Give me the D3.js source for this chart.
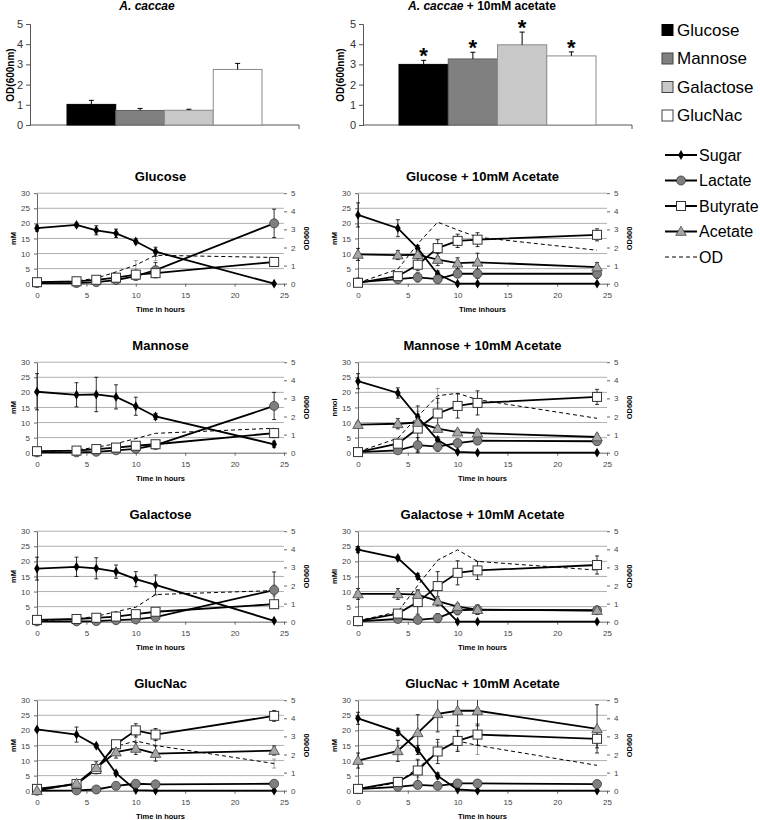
<!DOCTYPE html>
<html>
<head>
<meta charset="utf-8">
<script src="https://cdn.jsdelivr.net/npm/d3@7"></script>
<style>
body { margin: 0; background: #fff; }
svg { font-family: "Liberation Sans", Arial, sans-serif; }
</style>
</head>
<body>
<div id="chart"></div>
<script>
// top bar charts
const sugars = ["Glucose", "Mannose", "Galactose", "GlucNac"];
const odPlain = [1.02, 0.72, 0.73, 2.75];
const odPlainErr = [0.2, 0.1, 0.05, 0.3];
const odAcetate = [3.0, 3.27, 3.97, 3.42];
const odAcetateErr = [0.2, 0.33, 0.63, 0.2];
const barTicks = [0, 1, 2, 3, 4, 5];

// time course panels
const hours = [0, 4, 6, 8, 10, 12, 24];
const hourTicks = [0, 5, 10, 15, 20, 25];
const mmTicks = [0, 5, 10, 15, 20, 25, 30];
const odTicks = [0, 1, 2, 3, 4, 5];
const panelTitles = ["Glucose", "Glucose + 10mM Acetate", "Mannose", "Mannose + 10mM Acetate",
  "Galactose", "Galactose + 10mM Acetate", "GlucNac", "GlucNac + 10mM Acetate"];
const unitLabels = ["mM", "mM", "mM", "nmol", "mM", "mMl", "mM", "mM"];
const timeLabels = ["Time in hours", "Time inhours", "Time in hours", "Time in hours",
  "Time in hours", "Time in hours", "Time in hours", "Time in hours"];
const lineNames = ["Sugar", "Lactate", "Butyrate", "Acetate", "OD"];

const sugar = [
  [18.4, 19.5, 17.7, 16.7, 14.0, 10.6, 0],
  [22.8, 18.4, 11.7, 3.2, 0, 0, 0],
  [20.2, 19.2, 19.3, 18.5, 15.4, 12.0, 2.8],
  [23.7, 19.8, 11.8, 4.2, 0.3, 0, 0],
  [17.6, 18.2, 17.7, 16.6, 14.1, 12.2, 0.3],
  [23.9, 21.1, 15.0, 6.7, 0, 0, 0],
  [20.3, 18.6, 14.9, 5.8, 0.2, 0, 0],
  [24.0, 19.5, 13.5, 4.9, 0.4, 0, 0]
];
const sugarErr = [
  [1.0, 0.6, 1.5, 1.4, 0.8, 1.5, 0],
  [4.0, 2.8, 1.0, 1.0, 0, 0, 0],
  [6.0, 4.0, 5.7, 4.0, 3.0, 1.0, 1.0],
  [2.5, 1.7, 1.0, 1.0, 0, 0, 0],
  [3.8, 3.2, 3.5, 2.2, 2.5, 3.3, 0],
  [1.0, 0.6, 1.0, 1.0, 0, 0, 0],
  [0.5, 2.5, 0.6, 0.6, 0, 0, 0],
  [2.0, 1.2, 1.5, 1.0, 0, 0, 0]
];
const lactate = [
  [0.2, 0.2, 0.5, 1.2, 2.5, 4.5, 20.0],
  [0.5, 1.5, 2.1, 1.5, 3.3, 3.3, 3.3],
  [0.1, 0.1, 0.3, 0.8, 1.3, 2.5, 15.5],
  [0.2, 0.8, 2.5, 2.0, 3.2, 4.0, 3.8],
  [0.1, 0.1, 0.2, 0.5, 0.8, 1.5, 10.5],
  [0.1, 0.9, 0.6, 1.2, 3.8, 4.0, 3.8],
  [0.0, 0.1, 0.4, 1.6, 2.3, 2.1, 2.3],
  [0.5, 1.3, 1.9, 1.6, 2.4, 2.4, 2.2]
];
const lactateErr = [
  [0, 0, 0, 0, 0.8, 2.5, 4.7],
  [0.5, 1, 1.5, 1, 1, 1.5, 1.5],
  [0, 0, 0, 0, 0, 0, 4.5],
  [0.3, 0.8, 2.5, 1.5, 1.2, 1.2, 1.2],
  [0, 0, 0, 0, 0, 0, 6.0],
  [0.3, 0.5, 1.0, 1.5, 1.5, 1.5, 1.2],
  [0, 0, 0, 0.3, 0.3, 0.3, 0.3],
  [0.5, 0.8, 1, 1, 1, 1, 0.5]
];
const butyrate = [
  [0.5, 0.8, 1.3, 2.0, 3.0, 3.5, 7.2],
  [0.3, 2.5, 6.3, 11.8, 14.2, 14.6, 16.2],
  [0.5, 0.7, 1.2, 1.7, 2.3, 2.8, 6.5],
  [0.2, 3.0, 8.0, 13.0, 15.5, 16.5, 18.5],
  [0.6, 0.9, 1.3, 1.7, 2.5, 3.3, 5.8],
  [0.2, 2.7, 6.5, 11.8, 16.2, 17.0, 18.8],
  [0.6, 2.2, 7.2, 15.4, 20.0, 18.6, 24.8],
  [0.6, 2.9, 6.7, 13.0, 16.5, 18.6, 17.2]
];
const butyrateErr = [
  [0, 0, 0.5, 0.8, 0.8, 1.5, 1.3],
  [0.3, 1, 2, 2.8, 2.2, 2.3, 2.0],
  [0, 0, 0, 0, 0.5, 0.5, 1.5],
  [0.2, 1.5, 7.5, 5, 4, 4, 2.5],
  [0, 0, 0, 0, 0, 0.5, 0.8],
  [0.2, 1.2, 4, 4.8, 4, 3, 3],
  [0, 0.8, 1, 1, 2.2, 2, 1.8],
  [0.6, 1.5, 3.5, 4, 3.5, 3.5, 3]
];
const acetate = [
  null, [9.7, 9.5, 9.6, 8.0, 6.8, 7.1, 5.5],
  null, [9.3, 9.6, 10.0, 8.0, 6.8, 6.5, 5.2],
  null, [9.2, 9.2, 9.0, 6.8, 5.0, 4.0, 3.7],
  [0.0, 2.4, 7.6, 12.8, 14.0, 12.3, 13.3],
  [10.0, 13.2, 19.2, 25.5, 26.5, 26.5, 20.5]
];
const acetateErr = [
  null, [2, 1.5, 1, 2, 1.8, 3, 1.5],
  null, [1, 1.7, 1, 1, 0.8, 1, 1],
  null, [1.8, 1.8, 1.5, 1.5, 1, 1.5, 1],
  [0, 0.8, 2, 2, 2, 2.5, 1.5],
  [2.5, 3.5, 6, 6, 5, 5, 8]
];
// OD600, right axis
const od = [
  [0.05, 0.15, 0.3, 0.65, 1.03, 1.57, 1.45],
  [0.05, 0.8, 2.2, 3.4, 2.97, 2.57, 1.85],
  [0.05, 0.15, 0.3, 0.5, 0.78, 1.07, 1.35],
  [0.05, 0.8, 2.0, 3.15, 3.28, 2.93, 1.9],
  [0.05, 0.15, 0.3, 0.55, 0.8, 1.5, 1.72],
  [0.05, 0.55, 2.0, 3.4, 3.97, 3.33, 2.85],
  [0.05, 0.35, 1.2, 2.45, 2.75, 2.5, 1.5],
  [0.05, 0.45, 1.25, 2.17, 2.75, 2.5, 1.4]
];
const odErr = [
  [0, 0, 0.1, 0.15, 0.25, 0.3, 0.15],
  [0, 0, 0, 0, 0, 0, 0],
  [0, 0, 0, 0, 0, 0, 0.15],
  [0, 0, 0.3, 0.4, 0, 0, 0],
  [0, 0, 0, 0, 0, 0, 0.3],
  [0, 0, 0, 0, 0, 0, 0],
  [0, 0, 0, 0.2, 0.3, 0.3, 0.25],
  [0, 0, 0.5, 0.5, 0.5, 0.5, 0]
];

const svg = d3.select("#chart").append("svg").attr("width", 760).attr("height", 820);

var barFill = d3.scaleOrdinal().domain(sugars).range(["#000000", "#808080", "#c8c8c8", "#ffffff"]);
var barStroke = d3.scaleOrdinal().domain(sugars).range(["#000000", "#606060", "#8a8a8a", "#8a8a8a"]);

function drawBars(axisX, axisEnd, bandL, bandR, vals, errs, stars, ylabX) {
  var y = d3.scaleLinear().domain([0, 5]).range([125, 24]);
  var x = d3.scaleBand().domain(sugars).range([bandL, bandR]);
  var g = svg.append("g");
  g.append("g").attr("transform", "translate(" + axisX + ",0)")
    .call(d3.axisLeft(y).tickValues(barTicks).tickSize(4).tickFormat(d3.format("d")))
    .call(a => a.select(".domain").attr("stroke", "#555"))
    .call(a => a.selectAll(".tick line").attr("stroke", "#555"))
    .call(a => a.selectAll("text").attr("font-size", 11).attr("fill", "#333").attr("font-family", "Liberation Sans, Arial"));
  g.append("line").attr("x1", axisX).attr("x2", axisEnd).attr("y1", y(0)).attr("y2", y(0)).attr("stroke", "#555");
  g.append("line").attr("x1", axisEnd).attr("x2", axisEnd).attr("y1", y(0)).attr("y2", y(0) + 4).attr("stroke", "#555");
  g.selectAll("rect").data(sugars).enter().append("rect")
    .attr("x", d => x(d)).attr("width", x.bandwidth())
    .attr("y", (d, i) => y(vals[i])).attr("height", (d, i) => y(0) - y(vals[i]))
    .attr("fill", d => barFill(d)).attr("stroke", d => barStroke(d)).attr("stroke-width", 1);
  sugars.forEach(function (d, i) {
    var cx = x(d) + x.bandwidth() / 2;
    var top = y(vals[i] + errs[i]);
    g.append("line").attr("x1", cx).attr("x2", cx).attr("y1", y(vals[i])).attr("y2", top).attr("stroke", "#000");
    g.append("line").attr("x1", cx - 2.5).attr("x2", cx + 2.5).attr("y1", top).attr("y2", top).attr("stroke", "#000");
    if (stars) {
      g.append("text").attr("x", cx).attr("y", top + 3).attr("text-anchor", "middle")
        .attr("font-size", 22).attr("font-weight", "bold").text("*");
    }
  });
  g.append("text").attr("transform", "translate(" + ylabX + ",75) rotate(-90)")
    .attr("text-anchor", "middle").attr("dy", "0.35em").attr("font-size", 10).attr("font-weight", "bold").text("OD(600nm)");
}

drawBars(30, 299, 67, 262, odPlain, odPlainErr, false, 10);
drawBars(363, 632, 399, 596, odAcetate, odAcetateErr, true, 340);

svg.append("text").attr("x", 147).attr("y", 10).attr("text-anchor", "middle")
  .attr("font-size", 12).attr("font-weight", "bold").attr("font-style", "italic").text("A. caccae");
var t2 = svg.append("text").attr("x", 482).attr("y", 10).attr("text-anchor", "middle")
  .attr("font-size", 12).attr("font-weight", "bold");
t2.append("tspan").attr("font-style", "italic").text("A. caccae");
t2.append("tspan").text(" + 10mM acetate");

// legends
sugars.forEach(function (d, i) {
  var ly = 30 + i * 28.5;
  svg.append("rect").attr("x", 662).attr("y", ly - 5.5).attr("width", 11).attr("height", 11)
    .attr("fill", barFill(d)).attr("stroke", i == 0 ? "#000" : "#444");
  svg.append("text").attr("x", 677).attr("y", ly).attr("dy", "0.35em").attr("font-size", 17).text(d);
});

function marker(sel, name, cx, cy) {
  if (name == "Sugar") {
    sel.append("path").attr("d", d3.symbol().type(d3.symbolDiamond).size(28)())
      .attr("transform", "translate(" + cx + "," + cy + ")").attr("fill", "#000");
  } else if (name == "Lactate") {
    sel.append("circle").attr("cx", cx).attr("cy", cy).attr("r", 4.5).attr("fill", "#7f7f7f").attr("stroke", "#3a3a3a").attr("stroke-width", 0.8);
  } else if (name == "Butyrate") {
    sel.append("rect").attr("x", cx - 4.5).attr("y", cy - 4.5).attr("width", 9).attr("height", 9)
      .attr("fill", "#fff").attr("stroke", "#333").attr("stroke-width", 1);
  } else if (name == "Acetate") {
    sel.append("path").attr("d", d3.symbol().type(d3.symbolTriangle).size(48)())
      .attr("transform", "translate(" + cx + "," + (cy + 0.8) + ")").attr("fill", "#a6a6a6").attr("stroke", "#444").attr("stroke-width", 0.8);
  }
}

lineNames.forEach(function (d, i) {
  var ly = 155 + i * 25.5;
  var lg = svg.append("g");
  if (d == "OD") {
    lg.append("line").attr("x1", 665).attr("x2", 697).attr("y1", ly).attr("y2", ly)
      .attr("stroke", "#000").attr("stroke-width", 1).attr("stroke-dasharray", "4,3");
  } else {
    lg.append("line").attr("x1", 665).attr("x2", 697).attr("y1", ly).attr("y2", ly)
      .attr("stroke", "#000").attr("stroke-width", 2);
    marker(lg, d, 681, ly);
  }
  svg.append("text").attr("x", 699).attr("y", ly).attr("dy", "0.35em").attr("font-size", 16).text(d);
});

// time course panels
function drawPanel(p) {
  var col = p % 2, row = Math.floor(p / 2);
  var left = col ? 358 : 37, right = col ? 607 : 284;
  var zero = 283.7 + row * 169, top = zero - 90.5;
  var x = d3.scaleLinear().domain([0, 25]).range([left, right]);
  var y = d3.scaleLinear().domain([0, 30]).range([zero, top]);
  var y2 = d3.scaleLinear().domain([0, 5]).range([zero, top]);
  var g = svg.append("g");

  g.selectAll(".grid").data(mmTicks.slice(1)).enter().append("line")
    .attr("x1", left).attr("x2", right).attr("y1", d => y(d)).attr("y2", d => y(d))
    .attr("stroke", "#9a9a9a").attr("stroke-width", 0.8);

  var styleAxis = function (a) {
    a.select(".domain").attr("stroke", "#666");
    a.selectAll(".tick line").attr("stroke", "#666");
    a.selectAll("text").attr("font-size", 8).attr("fill", "#444").attr("font-family", "Liberation Sans, Arial");
  };
  g.append("g").attr("transform", "translate(" + left + ",0)")
    .call(d3.axisLeft(y).tickValues(mmTicks).tickSize(3).tickSizeOuter(0).tickPadding(4).tickFormat(d3.format("d"))).call(styleAxis);
  g.append("g").attr("transform", "translate(" + right + ",0)")
    .call(d3.axisRight(y2).tickValues(odTicks).tickSize(3).tickSizeOuter(0).tickPadding(4).tickFormat(d3.format("d"))).call(styleAxis)
    .call(a => a.select(".domain").remove());
  g.append("g").attr("transform", "translate(0," + zero + ")")
    .call(d3.axisBottom(x).tickValues(hourTicks).tickSize(3).tickSizeOuter(0).tickPadding(6).tickFormat(d3.format("d"))).call(styleAxis);

  g.append("text").attr("x", (left + right) / 2).attr("y", top - 17).attr("dy", "0.35em")
    .attr("text-anchor", "middle").attr("font-size", 13).attr("font-weight", "bold").text(panelTitles[p]);
  g.append("text").attr("x", (left + right) / 2).attr("y", zero + 26).attr("dy", "0.35em")
    .attr("text-anchor", "middle").attr("font-size", 7.5).attr("font-weight", "bold").text(timeLabels[p]);
  g.append("text").attr("transform", "translate(" + (left - 24) + "," + ((zero + top) / 2) + ") rotate(-90)")
    .attr("text-anchor", "middle").attr("dy", "0.35em").attr("font-size", 7.5).attr("font-weight", "bold").text(unitLabels[p]);
  g.append("text").attr("transform", "translate(" + (right + 22) + "," + ((zero + top) / 2) + ") rotate(-90)")
    .attr("text-anchor", "middle").attr("dy", "0.35em").attr("font-size", 7.5).attr("font-weight", "bold").text("OD600");

  var series = [
    { name: "OD", vals: od[p], errs: odErr[p], sy: y2, errColor: "#8c8c8c" },
    { name: "Sugar", vals: sugar[p], errs: sugarErr[p], sy: y, errColor: "#000" },
    { name: "Lactate", vals: lactate[p], errs: lactateErr[p], sy: y, errColor: "#000" },
    { name: "Butyrate", vals: butyrate[p], errs: butyrateErr[p], sy: y, errColor: "#000" },
    { name: "Acetate", vals: acetate[p], errs: acetateErr[p], sy: y, errColor: "#000" }
  ].filter(s => s.vals);

  // error bars, cut off at the plot's top edge
  series.forEach(function (s) {
    var dMax = s.sy.domain()[1];
    hours.forEach(function (h, i) {
      var e = s.errs[i];
      if (!e || e < 0.2) return;
      var hi = s.vals[i] + e, lo = s.vals[i] - e;
      var cx = x(h), y1 = s.sy(lo), y0 = s.sy(Math.min(hi, dMax));
      g.append("line").attr("x1", cx).attr("x2", cx).attr("y1", y0).attr("y2", y1).attr("stroke", s.errColor).attr("stroke-width", 0.8);
      var caps = hi > dMax ? [y1] : [y0, y1];
      caps.forEach(function (yy) {
        g.append("line").attr("x1", cx - 2).attr("x2", cx + 2).attr("y1", yy).attr("y2", yy).attr("stroke", s.errColor).attr("stroke-width", 0.8);
      });
    });
  });

  series.forEach(function (s) {
    var line = d3.line().x((d, i) => x(hours[i])).y(d => s.sy(d));
    g.append("path").attr("d", line(s.vals)).attr("fill", "none").attr("stroke", "#000")
      .attr("stroke-width", s.name == "OD" ? 1 : 1.8)
      .attr("stroke-dasharray", s.name == "OD" ? "4,3" : null);
  });
  series.forEach(function (s) {
    if (s.name == "OD") return;
    hours.forEach(function (h, i) { marker(g, s.name, x(h), s.sy(s.vals[i])); });
  });
}

for (var p = 0; p < panelTitles.length; p++) drawPanel(p);
</script>
</body>
</html>
